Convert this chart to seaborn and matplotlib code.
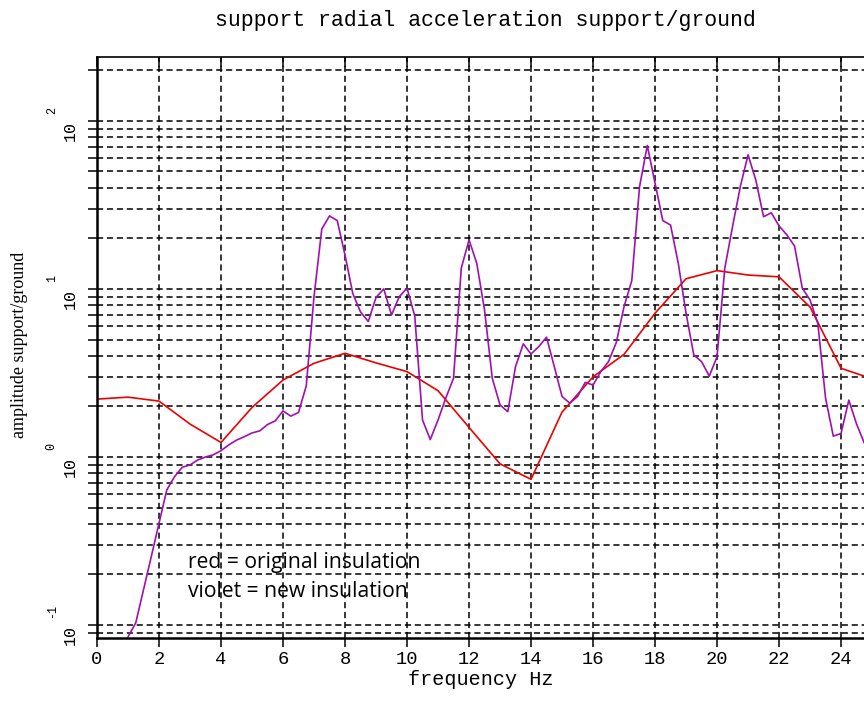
import numpy as np
import matplotlib
matplotlib.use('Agg')
import matplotlib.pyplot as plt
import seaborn as sns
from matplotlib.ticker import MultipleLocator, LogLocator, NullFormatter

# red = original insulation, one point per Hz
freq_red = list(range(0, 26))
amp_red = [2.21, 2.27, 2.15, 1.57, 1.22, 1.97, 2.87, 3.61, 4.14, 3.63,
           3.22, 2.48, 1.50, 0.91, 0.736, 1.85, 3.0, 4.08, 7.17, 11.5,
           12.85, 12.1, 11.8, 7.8, 3.37, 2.92]

# violet = new insulation, every 0.25 Hz from 1 Hz
freq_violet = np.arange(1.0, 24.76, 0.25)
amp_violet = [0.085, 0.103, 0.162, 0.255, 0.403, 0.636, 0.763, 0.869,
              0.896, 0.96, 1.0, 1.03, 1.09, 1.18, 1.26, 1.32,
              1.39, 1.43, 1.56, 1.64, 1.88, 1.75, 1.84, 2.65,
              9.0, 22.7, 27.2, 25.5, 15.9, 9.4, 7.3, 6.4,
              8.9, 10.0, 7.0, 9.0, 10.1, 6.9, 1.66, 1.27,
              1.66, 2.24, 2.94, 13.3, 19.6, 14.2, 7.5, 2.94,
              2.04, 1.86, 3.45, 4.71, 4.10, 4.54, 5.16, 3.45,
              2.29, 2.09, 2.29, 2.78, 2.68, 3.22, 3.7, 4.8,
              7.85, 11.2, 40.6, 71.3, 42.6, 25.5, 24.0, 14.2,
              7.17, 4.05, 3.69, 3.03, 3.95, 13.3, 23.5, 40.6,
              62.8, 44.5, 26.9, 28.4, 23.7, 21.0, 18.0, 10.1,
              8.6, 6.25, 2.24, 1.33, 1.38, 2.18, 1.57, 1.21]
assert len(freq_violet) == len(amp_violet)

decades = [-1, 0, 1, 2]

sns.set_theme(style='white')
plt.rcParams['font.family'] = ['Liberation Mono', 'DejaVu Sans']
plt.rcParams['text.color'] = 'black'
plt.rcParams['axes.labelcolor'] = 'black'

fig = plt.figure(figsize=(8.64, 7.02), dpi=100)
ax = fig.add_axes([97 / 864, 64 / 702, 767 / 864, 581 / 702])

sns.lineplot(x=freq_red, y=amp_red, color='#ee0000', linewidth=1.2, ax=ax)
sns.lineplot(x=freq_violet, y=amp_violet, color='#a010b0', linewidth=1.2, ax=ax)

ax.set_yscale('log')
ax.set_ylim(0.0837, 240)
ax.set_xlim(0, 24.74)

ax.xaxis.set_major_locator(MultipleLocator(2))
ax.yaxis.set_major_locator(LogLocator(10, numticks=10))
ax.yaxis.set_minor_locator(LogLocator(10, subs=np.arange(2, 10), numticks=20))
ax.yaxis.set_major_formatter(NullFormatter())
ax.yaxis.set_minor_formatter(NullFormatter())

ax.tick_params(axis='both', which='both', direction='out', length=6.5, width=1.1,
               colors='black', left=True, bottom=True)
ax.tick_params(axis='x', labelsize=13.5, pad=3)

dash = (0, (4, 2.5))
ax.grid(True, which='both', axis='y', color='black', linestyle=dash, linewidth=1.1)
ax.grid(True, which='major', axis='x', color='black', linestyle=dash, linewidth=1.1)
ax.set_axisbelow(True)

for s in ['left', 'bottom']:
    ax.spines[s].set_linewidth(1.8)
    ax.spines[s].set_color('black')
ax.spines['right'].set_visible(False)
ax.spines['top'].set_visible(False)

sec = ax.secondary_xaxis('top')
sec.xaxis.set_major_locator(MultipleLocator(2))
sec.tick_params(direction='in', length=7, width=1.1, labeltop=False, colors='black')
sec.spines['top'].set_linewidth(1.2)
sec.spines['top'].set_color('black')

# rotated decade labels, "10" with exponent placed above-left
ytrans = ax.get_yaxis_transform()
for k in decades:
    ax.text(-0.0352, 10.0 ** k, '10', transform=ytrans, rotation=90,
            ha='center', va='top', fontsize=12, clip_on=False)
    ax.text(-0.059, 1.1 * 10.0 ** k, str(k), transform=ytrans, rotation=90,
            ha='center', va='bottom', fontsize=8.5, clip_on=False)

ax.set_title('support radial acceleration support/ground', fontsize=15.5, pad=22,
             x=0.506)
ax.set_xlabel('frequency Hz', fontsize=14.5, labelpad=1)
ax.set_ylabel('')
fig.text(0.023, 0.5085, 'amplitude support/ground', rotation=90, ha='center',
         va='center', fontsize=13, family='Liberation Serif')

ax.text(2.94, 0.218, 'red = original insulation', fontsize=15.2,
        family='Open Sans', va='baseline')
ax.text(2.94, 0.147, 'violet = new insulation', fontsize=15.2,
        family='Open Sans', va='baseline')

fig.savefig('out.png', dpi=100)
